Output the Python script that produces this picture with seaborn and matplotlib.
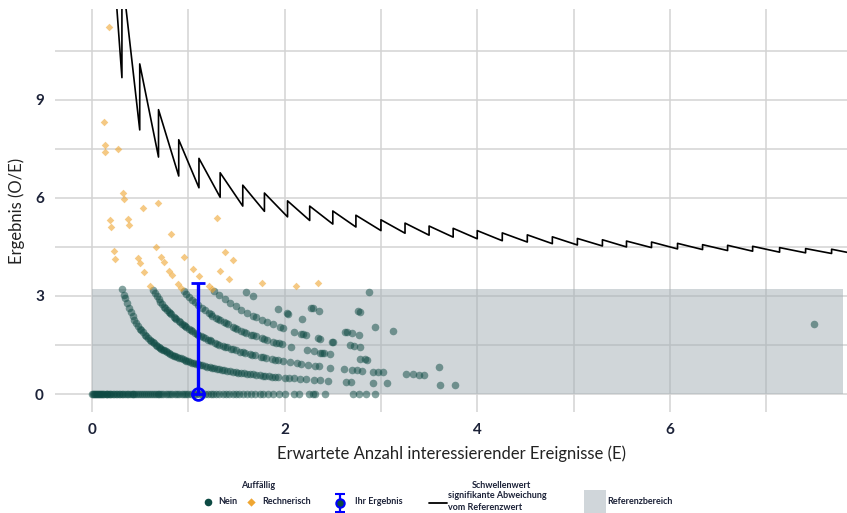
import matplotlib
matplotlib.use("Agg")
import matplotlib.pyplot as plt
from matplotlib.patches import Rectangle
import pandas as pd
import seaborn as sns

# Expected counts E of hospitals without conspicuous result, grouped by observed count O
e_o0 = [0.00, 0.01, 0.02, 0.03, 0.04, 0.05, 0.06, 0.07, 0.08, 0.09, 0.10, 0.11, 0.12, 0.14,
        0.15, 0.16, 0.18, 0.19, 0.20, 0.22, 0.23, 0.25, 0.26, 0.28, 0.29, 0.31, 0.32, 0.34,
        0.36, 0.37, 0.39, 0.41, 0.43, 0.44, 0.46, 0.48, 0.50, 0.52, 0.54, 0.56, 0.58, 0.60,
        0.62, 0.64, 0.66, 0.68, 0.70, 0.72, 0.74, 0.77, 0.79, 0.81, 0.83, 0.86, 0.88, 0.90,
        0.93, 0.95, 0.98, 1.00, 1.03, 1.06, 1.08, 1.11, 1.14, 1.17, 1.20, 1.23, 1.26, 1.29,
        1.32, 1.36, 1.39, 1.42, 1.46, 1.49, 1.53, 1.57, 1.61, 1.65, 1.69, 1.74, 1.78, 1.83,
        1.88, 1.94, 2.00, 2.10, 2.15, 2.25, 2.29, 2.32, 2.42, 2.71, 2.77, 2.84, 2.94]
e_o1 = [0.31, 0.33, 0.34, 0.36, 0.38, 0.40, 0.42, 0.44, 0.46, 0.48, 0.50, 0.51, 0.53, 0.55,
        0.565, 0.58, 0.60, 0.615, 0.63, 0.645, 0.66, 0.675, 0.69, 0.705, 0.72, 0.735, 0.75,
        0.765, 0.78, 0.795, 0.81, 0.83, 0.85, 0.865, 0.88, 0.90, 0.92, 0.94, 0.96, 0.98,
        1.00, 1.02, 1.04, 1.06, 1.08, 1.10, 1.12, 1.145, 1.17, 1.195, 1.22, 1.245, 1.27,
        1.295, 1.32, 1.345, 1.37, 1.40, 1.43, 1.46, 1.49, 1.52, 1.55, 1.58, 1.61, 1.64,
        1.67, 1.70, 1.74, 1.77, 1.80, 1.84, 1.87, 1.90, 1.93, 2.00, 2.04, 2.10, 2.16, 2.22,
        2.30, 2.37, 2.45, 2.64, 2.69, 2.92, 3.06, 3.61, 3.77]
e_o2 = [0.63, 0.65, 0.67, 0.69, 0.71, 0.73, 0.75, 0.76, 0.78, 0.80, 0.81, 0.82, 0.85, 0.86,
        0.87, 0.90, 0.91, 0.93, 0.95, 0.965, 0.98, 1.01, 1.025, 1.04, 1.07, 1.085, 1.10,
        1.13, 1.15, 1.17, 1.20, 1.22, 1.24, 1.28, 1.30, 1.32, 1.36, 1.38, 1.40, 1.44, 1.46,
        1.49, 1.54, 1.565, 1.59, 1.64, 1.665, 1.69, 1.75, 1.78, 1.81, 1.87, 1.90, 1.93,
        1.98, 2.06, 2.13, 2.17, 2.24, 2.31, 2.36, 2.47, 2.62, 2.70, 2.75, 2.80, 2.92, 2.97,
        3.02, 3.26, 3.33, 3.40, 3.45]
e_o3 = [0.95, 0.98, 1.01, 1.04, 1.07, 1.10, 1.14, 1.17, 1.21, 1.23, 1.25, 1.29, 1.31, 1.33,
        1.37, 1.39, 1.41, 1.46, 1.48, 1.50, 1.55, 1.575, 1.60, 1.65, 1.675, 1.70, 1.76,
        1.79, 1.82, 1.88, 1.91, 1.94, 1.97, 2.07, 2.23, 2.30, 2.37, 2.39, 2.41, 2.47, 2.78,
        2.83, 2.86, 3.60]
e_o4 = [1.27, 1.32, 1.38, 1.43, 1.49, 1.55, 1.61, 1.67, 1.70, 1.76, 1.82, 1.88, 1.95, 1.98,
        2.10, 2.17, 2.19, 2.22, 2.35, 2.37, 2.49, 2.50, 2.68, 2.72, 2.78]
e_o5 = [1.60, 1.67, 1.93, 2.02, 2.03, 2.18, 2.63, 2.65, 2.70, 2.77]
e_o6 = [2.27, 2.29, 2.36, 2.94, 3.13]
e_o7 = [2.76, 2.78]
other_o = [9, 16]
other_e = [2.88, 7.50]

# Hospitals flagged as computationally conspicuous ("Rechnerisch")
rech_o = [2, 1, 1, 1, 2, 2, 2, 3, 4, 1, 1, 2, 2, 7, 4, 1, 1, 2, 2, 2, 3, 3, 3, 3, 3,
          4, 4, 4, 2, 3, 3, 4, 4, 6, 6, 5, 5, 6, 7, 8]
rech_e = [0.178, 0.120, 0.131, 0.135, 0.267, 0.325, 0.335, 0.528, 0.684, 0.188, 0.196,
          0.374, 0.386, 1.30, 0.816, 0.229, 0.242, 0.48, 0.50, 0.536, 0.668, 0.716, 0.745,
          0.80, 0.826, 0.957, 1.045, 1.11, 0.604, 0.89, 0.926, 1.21, 1.246, 1.385, 1.46,
          1.326, 1.42, 1.76, 2.115, 2.35]

# Threshold of significant deviation from the reference value (vertices of the step curve)
thr_e = [0.24, 0.31, 0.31, 0.495, 0.495, 0.69, 0.69, 0.90, 0.90, 1.11, 1.11, 1.33, 1.33,
         1.565, 1.565, 1.79, 1.79, 2.03, 2.03, 2.26, 2.26, 2.50, 2.50, 2.74, 2.74, 3.00, 3.00,
         3.25, 3.25, 3.50, 3.50, 3.75, 3.75, 4.00, 4.00, 4.26, 4.26, 4.52, 4.52, 4.78, 4.78,
         5.04, 5.04, 5.30, 5.30, 5.55, 5.55, 5.81, 5.81, 6.08, 6.08, 6.34, 6.34, 6.60, 6.60,
         6.86, 6.86, 7.14, 7.14, 7.41, 7.41, 7.68, 7.68, 7.90]
thr_oe = [12.50, 9.68, 12.90, 8.08, 10.10, 7.25, 8.70, 6.67, 7.78, 6.31, 7.21, 6.02, 6.77,
          5.75, 6.39, 5.59, 6.15, 5.42, 5.91, 5.31, 5.75, 5.20, 5.60, 5.11, 5.47, 5.00, 5.33,
          4.92, 5.23, 4.86, 5.14, 4.80, 5.07, 4.75, 5.00, 4.69, 4.93, 4.65, 4.87, 4.60, 4.81,
          4.56, 4.76, 4.53, 4.72, 4.50, 4.68, 4.48, 4.65, 4.44, 4.61, 4.42, 4.57, 4.39, 4.55,
          4.37, 4.52, 4.34, 4.48, 4.32, 4.45, 4.30, 4.43, 4.30]

# Own result with upper confidence limit, and reference range
ihr_e = 1.10
ihr_oe = 0.0
ihr_upper = 3.40
ref_upper = 3.20

x_ticks = [0, 2, 4, 6]
y_ticks = [0, 3, 6, 9]

GREEN = "#0d4a43"
ORANGE = "#efa632"
BLUE = "#0000ff"
TXT = "#1c2238"

rows = []
for o, es in [(0, e_o0), (1, e_o1), (2, e_o2), (3, e_o3), (4, e_o4), (5, e_o5), (6, e_o6), (7, e_o7)]:
    rows += [(e, o, "Nein") for e in es]
rows += [(e, o, "Nein") for o, e in zip(other_o, other_e)]
rows += [(e, o, "Rechnerisch") for o, e in zip(rech_o, rech_e)]
df = pd.DataFrame(rows, columns=["E", "O", "Auffaellig"])
df["OE"] = df["O"] / df["E"].where(df["E"] > 0, 1.0)

sns.set_theme(style="white")
plt.rcParams["font.family"] = ["Lato", "DejaVu Sans"]

W, H = 847, 513
fig = plt.figure(figsize=(W / 100, H / 100), dpi=100)
ax = fig.add_axes([55 / W, 1 - 412 / H, 792 / W, 403 / H])

ax.set_xlim(-0.385, 7.84)
ax.set_ylim(-0.55, 11.78)
ax.set_xticks(x_ticks)
ax.set_xticks([1, 3, 5, 7], minor=True)
ax.set_yticks(y_ticks)
ax.set_yticks([1.5, 4.5, 7.5, 10.5], minor=True)
ax.grid(True, which="both", color="#d3d3d3", lw=1.1)
ax.set_axisbelow(True)
for s in ax.spines.values():
    s.set_visible(False)
ax.tick_params(which="both", length=0)
ax.tick_params(axis="x", pad=8, labelsize=11, labelcolor=TXT)
ax.tick_params(axis="y", pad=8, labelsize=11, labelcolor=TXT)
for lab in ax.get_xticklabels() + ax.get_yticklabels():
    lab.set_fontweight("bold")

ax.add_patch(Rectangle((0, 0), 7.80, ref_upper, facecolor="#a3aeb5", alpha=0.5,
                       lw=0, zorder=1))

sns.scatterplot(data=df[df["Auffaellig"] == "Nein"], x="E", y="OE", color=GREEN,
                alpha=0.5, s=30, linewidth=0, marker="o", ax=ax, zorder=3, legend=False)
sns.scatterplot(data=df[df["Auffaellig"] == "Rechnerisch"], x="E", y="OE", color=ORANGE,
                alpha=0.6, s=15, linewidth=0, marker="D", ax=ax, zorder=3, legend=False)

sns.lineplot(x=thr_e, y=thr_oe, estimator=None, sort=False, color="black", lw=1.2,
             ax=ax, zorder=4)

ax.errorbar([ihr_e], [ihr_oe], yerr=[[0], [ihr_upper - ihr_oe]], fmt="o", color=BLUE,
            mfc="none", mec=BLUE, ms=8.5, mew=2.0, elinewidth=2.4, capsize=5,
            capthick=2.4, zorder=5)

ax.set_xlabel("Erwartete Anzahl interessierender Ereignisse (E)", fontsize=12,
              color="#222222", labelpad=6)
ax.set_ylabel("Ergebnis (O/E)", fontsize=12, color="#222222", labelpad=7)

# Legend and note drawn in figure pixel coordinates
lax = fig.add_axes([0, 0, 1, 1], zorder=-1)
lax.set_xlim(0, W)
lax.set_ylim(H, 0)
lax.axis("off")
lax.patch.set_visible(False)

fs = 6.5
lax.text(846, 16, "4 Ergebnisse \u2265 14,11 mit E zwischen 0,02 und 0,07 werden nicht dargestellt",
         ha="right", va="center", fontsize=6.3, color="#1a1a1a")

lax.text(258, 485, "Auffällig", ha="center", va="center", fontsize=fs, weight="bold", color=TXT)
lax.scatter([208], [502], s=30, color=GREEN, marker="o", linewidth=0)
lax.text(218, 502, "Nein", va="center", fontsize=fs, weight="bold", color=TXT)
lax.scatter([251], [502], s=18, color=ORANGE, marker="D", linewidth=0)
lax.text(262, 502, "Rechnerisch", va="center", fontsize=fs, weight="bold", color=TXT)

lax.errorbar([340], [502.5], yerr=[[9], [9]], fmt="o", color=BLUE, mfc=GREEN, mec=BLUE,
             ms=6, mew=1.5, elinewidth=1.6, capsize=3.5, capthick=1.6)
lax.text(355, 502, "Ihr Ergebnis", va="center", fontsize=fs, weight="bold", color=TXT)

lax.plot([429, 447], [503, 503], color="black", lw=1.3)
lax.text(501, 485, "Schwellenwert", ha="center", va="center", fontsize=fs, weight="bold", color=TXT)
lax.text(448, 495.5, "signifikante Abweichung", va="center", fontsize=fs, weight="bold", color=TXT)
lax.text(448, 507, "vom Referenzwert", va="center", fontsize=fs, weight="bold", color=TXT)

lax.add_patch(Rectangle((584, 490), 22, 23, facecolor="#d0d6da", lw=0))
lax.text(607, 502, "Referenzbereich", va="center", fontsize=fs, weight="bold", color=TXT)

fig.savefig("out.png", dpi=100)
